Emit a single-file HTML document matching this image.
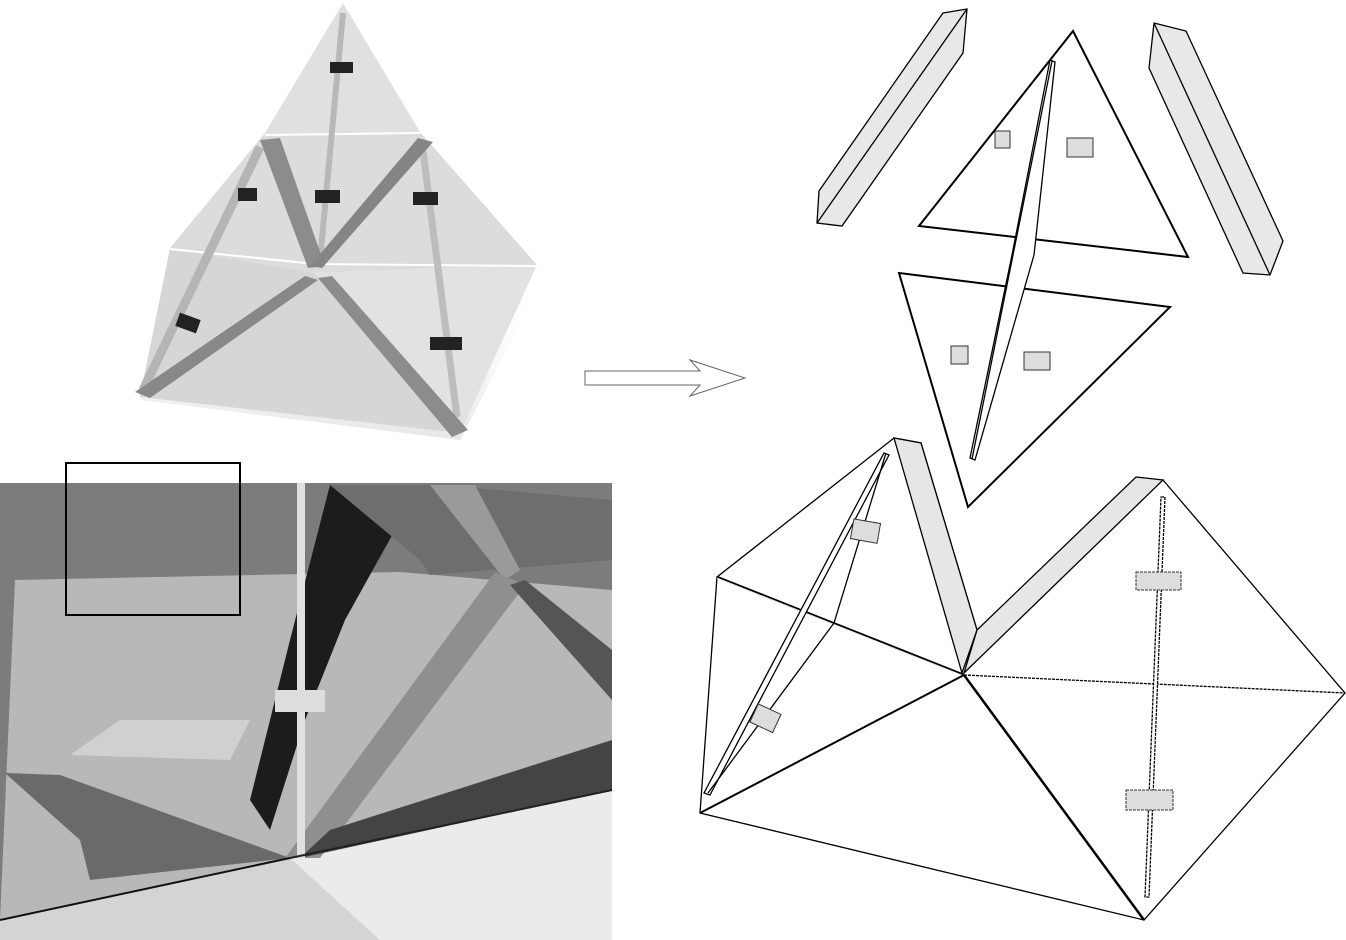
<!DOCTYPE html>
<html><head><meta charset="utf-8"><style>html,body{margin:0;padding:0;background:#fff}svg{display:block}</style></head>
<body>
<svg width="1346" height="940" viewBox="0 0 1346 940" xmlns="http://www.w3.org/2000/svg">
<defs>
<linearGradient id="sh" x1="0" y1="0" x2="0" y2="1"><stop offset="0" stop-color="#fff" stop-opacity="0"/><stop offset="1" stop-color="#e6e6e6"/></linearGradient>
</defs>
<!-- top-left render -->
<polygon points="170,300 315,280 537,290 460,440 140,400" fill="url(#sh)"/>
<polygon points="343,3 265,133 420,132" fill="#e0e0e0"/>
<polygon points="265,133 420,132 537,265 315,273 170,248" fill="#dcdcdc"/>
<polygon points="170,248 315,273 460,433 140,397" fill="#d6d6d6"/>
<polygon points="315,273 537,265 460,433" fill="#e2e2e2"/>
<polyline points="265,135 420,133" stroke="#fff" stroke-width="2" fill="none"/>
<polyline points="170,249 315,264 537,266" stroke="#fff" stroke-width="2" fill="none"/>
<line x1="343" y1="13" x2="320" y2="260" stroke="#b8b8b8" stroke-width="6"/>
<line x1="260" y1="147" x2="143" y2="390" stroke="#b5b5b5" stroke-width="9"/>
<line x1="422" y1="143" x2="457" y2="417" stroke="#bdbdbd" stroke-width="7"/>
<polygon points="260,140 280,138 325,266 308,268" fill="#8c8c8c"/>
<polygon points="418,138 433,142 322,268 310,266" fill="#858585"/>
<polygon points="305,276 318,280 150,398 135,392" fill="#888"/>
<polygon points="318,278 332,276 468,430 452,437" fill="#8c8c8c"/>
<rect x="330" y="62" width="23" height="11" fill="#222"/>
<rect x="238" y="188" width="19" height="13" fill="#222"/>
<rect x="315" y="190" width="25" height="13" fill="#222"/>
<rect x="413" y="192" width="25" height="13" fill="#222"/>
<rect x="177" y="316" width="22" height="14" fill="#222" transform="rotate(20 188 323)"/>
<rect x="430" y="337" width="32" height="13" fill="#222"/>
<!-- bottom-left photo -->
<rect x="0" y="483" width="612" height="457" fill="#7c7c7c"/>
<polygon points="15,580 400,572 612,590 612,800 290,858 0,920" fill="#b8b8b8"/>
<polygon points="0,920 290,858 612,800 612,940 0,940" fill="#d4d4d4"/>
<polygon points="290,858 612,790 612,940 380,940" fill="#ebebeb"/>
<polygon points="5,773 60,775 290,858 90,880 80,840" fill="#6a6a6a"/>
<polygon points="330,485 420,485 345,620 305,720 270,830 250,800 290,640" fill="#1c1c1c"/>
<polygon points="330,485 440,485 612,500 612,560 430,575 420,560" fill="#6e6e6e"/>
<polygon points="430,485 475,485 520,570 505,580" fill="#9a9a9a"/>
<polygon points="495,572 525,585 320,858 285,858" fill="#8f8f8f"/>
<polygon points="510,585 525,580 612,650 612,700" fill="#555"/>
<polygon points="330,830 612,740 612,790 300,858" fill="#444"/>
<polygon points="120,720 250,720 230,760 70,755" fill="#d0d0d0"/>
<rect x="297" y="483" width="8" height="375" fill="#e0e0e0"/>
<rect x="275" y="690" width="50" height="22" fill="#ddd"/>
<line x1="0" y1="920" x2="290" y2="858" stroke="#111" stroke-width="2"/>
<line x1="290" y1="858" x2="612" y2="790" stroke="#222" stroke-width="2"/>
<rect x="66" y="463" width="174" height="152" fill="none" stroke="#000" stroke-width="2"/>
<!-- arrow -->
<polygon points="585,371 700,371 690,360 745,378 690,396 700,385 585,385" fill="#fff" stroke="#666"/>
<!-- right drawing -->
<g stroke="#000" stroke-width="1.3" fill="none">
<polygon points="943,13 967,9 963,53 842,226 817,223 819,191" fill="#e8e8e8"/>
<line x1="967" y1="9" x2="817" y2="223"/>
<polygon points="1154,23 1186,31 1283,241 1270,275 1243,273 1149,68" fill="#e8e8e8"/>
<line x1="1154" y1="23" x2="1270" y2="275"/>
<polygon points="1073,31 919,226 1188,257" fill="#fff" stroke-width="2"/>
<polygon points="899,273 1170,307 968,507" fill="#fff" stroke-width="2"/>
<polygon points="1050,60 1055,62 1034,255 975,460 970,458 1012,255" fill="#fff"/>
<line x1="1052" y1="61" x2="972" y2="459"/>
<polygon points="894,438 717,577 700,813 1144,920 1345,693 1163,480 977,630 921,443" fill="#fff"/>
<polygon points="894,438 921,443 977,630 962,673" fill="#e6e6e6"/>
<polygon points="1136,477 1163,480 964,673 977,630" fill="#e6e6e6"/>
<line x1="717" y1="577" x2="964" y2="675" stroke-width="2.5"/>
<line x1="717" y1="578" x2="964" y2="676" stroke="#fff" stroke-width="0.8"/>
<line x1="964" y1="675" x2="700" y2="813" stroke-width="2"/>
<line x1="964" y1="675" x2="1144" y2="920" stroke-width="2.5"/>
<line x1="964" y1="675" x2="1345" y2="693" stroke-dasharray="3,1"/>
<polygon points="884,453 889,455 710,795 704,793" fill="#fff"/>
<polyline points="886,453 834,623 708,793"/>
<polygon points="1161,497 1165,497 1149,897 1145,897" fill="#fff" stroke-dasharray="3,1"/>
</g>
<g fill="#ddd" stroke="#333">
<rect x="995" y="131" width="15" height="17"/><rect x="1067" y="138" width="26" height="19"/>
<rect x="951" y="346" width="17" height="18"/><rect x="1024" y="352" width="26" height="18"/>
<rect x="852" y="521" width="27" height="20" transform="rotate(10 865 531)"/>
<rect x="753" y="708" width="25" height="20" transform="rotate(25 765 718)"/>
<rect x="1136" y="572" width="45" height="18" stroke-dasharray="3,1"/><rect x="1126" y="790" width="47" height="20" stroke-dasharray="3,1"/>
</g>
</svg>
</body></html>
